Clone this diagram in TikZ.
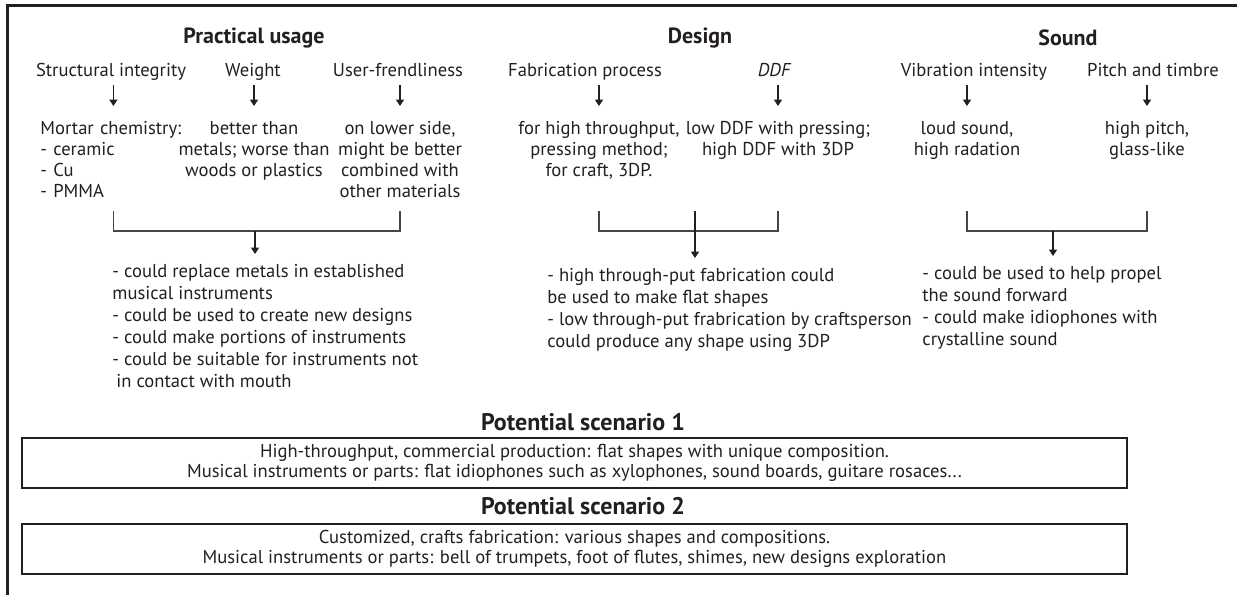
\documentclass[tikz,border=0pt]{standalone}
\usepackage{fontspec}
\setmainfont{PT Sans}
\usepackage{xcolor}
\usepackage{tikz}
\usetikzlibrary{arrows.meta, positioning}
\definecolor{InkBlack}{RGB}{35, 31, 32}
\definecolor{LineGray}{RGB}{70, 70, 70}
\tikzset{
  head/.style={font=\fontsize{11}{13}\selectfont\bfseries, text=InkBlack,
    inner sep=0pt},
  shead/.style={head, font=\fontsize{12}{14}\selectfont\bfseries},
  sub/.style={font=\fontsize{9.3}{10.5}\selectfont, text=InkBlack,
    inner sep=0pt, text height=7pt, text depth=2pt},
  desc/.style={font=\fontsize{9.3}{10.5}\selectfont, text=InkBlack,
    inner sep=0pt, align=center, anchor=north},
  res/.style={font=\fontsize{9.3}{11}\selectfont, text=InkBlack,
    inner sep=0pt, align=left, anchor=north west},
  scen/.style={rectangle, draw=InkBlack, line width=1pt, minimum width=552.5pt,
    minimum height=25pt, align=center, text=InkBlack,
    font=\fontsize{9.3}{10}\selectfont},
  arr/.style={-{Triangle[width=4pt,length=3.2pt]}, line width=0.6pt,
    draw=InkBlack, shorten <=2.5pt, shorten >=7.5pt},
  brk/.style={line width=0.75pt, draw=LineGray},
}
\begin{document}
\begin{tikzpicture}[x=0.5pt, y=-0.5pt]
  \useasboundingbox (0,0) rectangle (1237,595);
  \draw[line width=1.5pt, InkBlack] (7,595) -- (7,5) -- (1237,5);

  \node[head] (hpu) at (254,38) {Practical usage};
  \node[head] (hde) at (700,38) {Design};
  \node[head] (hso) at (1068,38) {Sound};

  \node[sub] (si)  at (111,71)  {Structural integrity};
  \node[sub] (wg)  at (253,71)  {Weight};
  \node[sub] (uf)  at (398,71)  {User-frendliness};
  \node[sub] (fab) at (585,71)  {Fabrication process};
  \node[sub] (ddf) at (774,71)  {\itshape DDF};
  \node[sub] (vib) at (974,71)  {Vibration intensity};
  \node[sub] (pit) at (1153,71) {Pitch and timbre};

  \node[desc, anchor=north west, text width=73pt, align=left] (mcd) at (40,121)
    {Mortar chemistry:\\- ceramic\\- Cu\\- PMMA};
  \node[desc] (wgd) at (254,121) {better than\\metals; worse than\\woods or plastics};
  \node[desc] (ufd) at (400,121) {on lower side,\\might be better\\combined with\\other materials};
  \node[desc] (fpd) at (599,121) {for high throughput,\\pressing method;\\for craft, 3DP.};
  \node[desc] (ddd) at (778,121) {low DDF with pressing;\\high DDF with 3DP};
  \node[desc] (vid) at (967,121) {loud sound,\\high radation};
  \node[desc] (ptd) at (1147,121) {high pitch,\\glass-like};

  \draw[arr] (si.south -| mcd.north) -- (mcd.north);
  \draw[arr] (wg.south -| wgd.north) -- (wgd.north);
  \draw[arr] (uf.south -| ufd.north) -- (ufd.north);
  \draw[arr] (fab.south -| fpd.north) -- (fpd.north);
  \draw[arr] (ddf.south -| ddd.north) -- (ddd.north);
  \draw[arr] (vib.south -| vid.north) -- (vid.north);
  \draw[arr] (pit.south -| ptd.north) -- (ptd.north);

  \coordinate (btop) at (0,211);
  \coordinate (bmid) at (0,231);
  \coordinate (pj) at (255,231);
  \coordinate (dj) at (695,231);
  \coordinate (sj) at (1053,231);

  \node[res] (prr) at (112,264)
    {- could replace metals in established\\musical instruments\\
     - could be used to create new designs\\- could make portions of instruments\\
     - could be suitable for instruments not\\\hspace{2pt}in contact with mouth};
  \node[res] (drr) at (547,268)
    {- high through-put fabrication could\\be used to make flat shapes\\
     - low through-put frabrication by craftsperson\\could produce any shape using 3DP};
  \node[res] (srr) at (922,266)
    {- could be used to help propel\\the sound forward\\
     - could make idiophones with\\crystalline sound};

  \draw[brk] (mcd.north |- btop) -- (mcd.north |- bmid)
    -- (ufd.north |- bmid) -- (ufd.north |- btop);
  \draw[brk] (fpd.north |- btop) -- (fpd.north |- bmid)
    -- (ddd.north |- bmid) -- (ddd.north |- btop);
  \draw[brk] (vid.north |- btop) -- (vid.north |- bmid)
    -- (ptd.north |- bmid) -- (ptd.north |- btop);
  \draw[arr, shorten <=0pt, shorten >=5pt] (pj) -- (pj |- prr.north);
  \draw[arr, shorten <=0pt, shorten >=5pt] (dj |- btop) -- (dj |- drr.north);
  \draw[arr, shorten <=0pt, shorten >=5pt] (sj) -- (sj |- srr.north);

  \node[shead] (hs1) at (583,422) {Potential scenario 1};
  \node[scen] (sc1) at (574.5,463)
    {High-throughput, commercial production: flat shapes with unique composition.\\
     Musical instruments or parts: flat idiophones such as xylophones, sound boards, guitare rosaces...};
  \node[shead] (hs2) at (583,506) {Potential scenario 2};
  \node[scen] (sc2) at (574.5,549)
    {Customized, crafts fabrication: various shapes and compositions.\\
     Musical instruments or parts: bell of trumpets, foot of flutes, shimes, new designs exploration};
\end{tikzpicture}
\end{document}
